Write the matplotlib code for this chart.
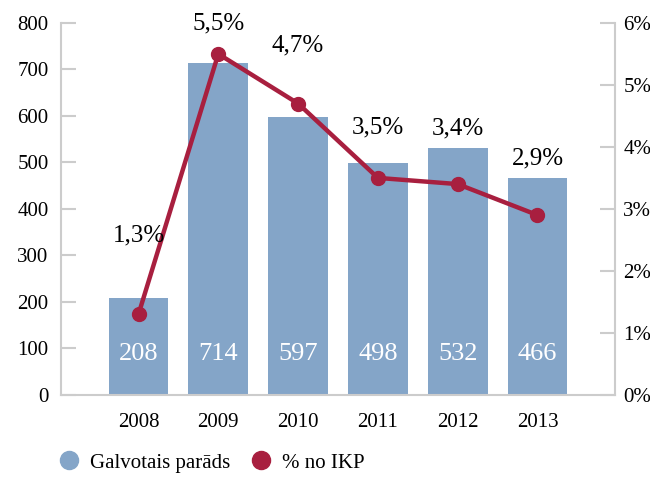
import numpy as np
import matplotlib.pyplot as plt
from matplotlib.lines import Line2D

plt.rcParams['font.family'] = ['Liberation Serif', 'DejaVu Serif']

years = ['2008', '2009', '2010', '2011', '2012', '2013']
debt = [208, 714, 597, 498, 532, 466]
gdp_pct = [1.3, 5.5, 4.7, 3.5, 3.4, 2.9]
pct_labels = ['1,3%', '5,5%', '4,7%', '3,5%', '3,4%', '2,9%']
left_ticks = [0, 100, 200, 300, 400, 500, 600, 700, 800]
right_ticks = [0, 1, 2, 3, 4, 5, 6]

# label offsets above the points (in points)
label_offsets = [57, 22, 42, 36, 40, 41]

bar_color = '#84A5C8'
line_color = '#A81F3F'
grey = '#CCCCCC'

fig = plt.figure(figsize=(6.5, 4.78), dpi=100)
ax = fig.add_axes([0.094, 0.174, 0.852, 0.778])
x = np.arange(len(years))

ax.bar(x, debt, width=0.75, color=bar_color, zorder=2)
for i, v in enumerate(debt):
    ax.text(x[i], 88, str(v), ha='center', va='center', color='white', fontsize=19)

ax.set_ylim(0, 800)
ax.set_xlim(-0.97, 5.97)
ax.set_yticks(left_ticks)
ax.set_xticks(x)
ax.set_xticklabels(years)

ax2 = ax.twinx()
ax2.plot(x, gdp_pct, color=line_color, linewidth=3.2, marker='o', markersize=10, zorder=3)
ax2.set_ylim(0, 6)
ax2.set_yticks(right_ticks)
ax2.set_yticklabels([f'{t}%' for t in right_ticks])
for i, v in enumerate(gdp_pct):
    ax2.annotate(pct_labels[i], (x[i], v), xytext=(0, label_offsets[i]),
                 textcoords='offset points', ha='center', va='center', fontsize=18)

for a in (ax, ax2):
    for s in a.spines.values():
        s.set_visible(False)
ax.spines['left'].set_visible(True)
ax.spines['left'].set_color(grey)
ax.spines['left'].set_linewidth(1.5)
ax.spines['bottom'].set_visible(True)
ax.spines['bottom'].set_color(grey)
ax.spines['bottom'].set_linewidth(1.5)
ax2.spines['right'].set_visible(True)
ax2.spines['right'].set_color(grey)
ax2.spines['right'].set_linewidth(1.5)

ax.tick_params(axis='y', direction='in', length=11, width=1.5, color=grey, labelsize=15, pad=9)
ax.tick_params(axis='x', length=0, labelsize=15, pad=13)
ax2.tick_params(axis='y', direction='in', length=11, width=1.5, color=grey, labelsize=15, pad=6)

handles = [
    Line2D([], [], marker='o', linestyle='none', markersize=13, color=bar_color),
    Line2D([], [], marker='o', linestyle='none', markersize=13, color=line_color),
]
fig.legend(handles, ['Galvotais parāds', '% no IKP'], loc='lower left',
           bbox_to_anchor=(0.045, -0.028), ncol=2, frameon=False, fontsize=15,
           handletextpad=0.0, columnspacing=0.5)

fig.savefig('out.png', dpi=100)
